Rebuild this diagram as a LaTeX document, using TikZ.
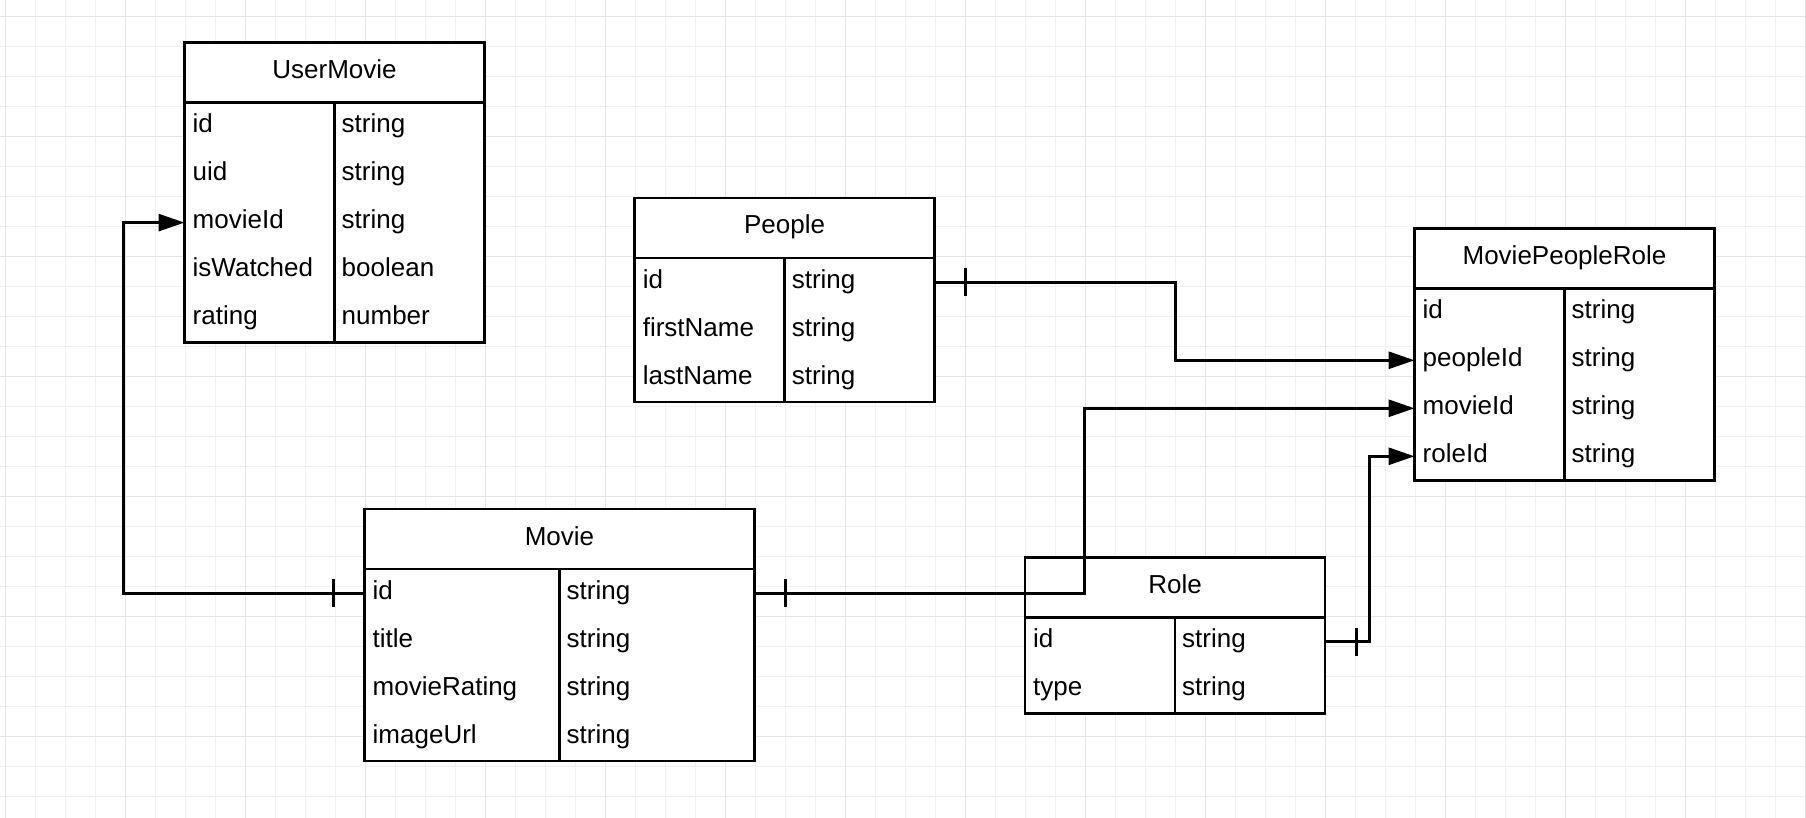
\documentclass[tikz,border=0pt]{standalone}
\usepackage{fontspec}
\setmainfont{Liberation Sans}
\usetikzlibrary{positioning, calc, arrows.meta, decorations.markings}

\tikzset{
  gridminor/.style={draw=black!6, line width=0.8pt},
  gridmajor/.style={draw=black!10, line width=1pt},
  tblhead/.style={draw, fill=white, line width=2.8pt, inner sep=0pt, outer sep=0pt, anchor=north west,
    minimum height=60pt, text height=19pt, text depth=7pt},
  tblbody/.style={draw, fill=white, line width=2.8pt},
  tblrow/.style={inner sep=0pt, outer sep=0pt, minimum height=48pt},
  fieldtxt/.style={inner sep=0pt, anchor=base west},
  rel/.style={line width=3pt, -{Triangle[length=26pt,width=17pt]},
    decoration={markings, mark=at position 31pt with {\draw[-, line width=3pt] (0,-14pt) -- (0,14pt);}},
    postaction={decorate}}
}

\begin{document}
\begin{tikzpicture}[x=1pt, y=-1pt, font=\fontsize{26}{31}\selectfont]

\useasboundingbox (0,0) rectangle (1806,818);
\fill[white] (0,0) rectangle (1806,818);

%Grid
\foreach \gx in {5,35,...,1805} \draw[gridminor] (\gx,0) -- (\gx,818);
\foreach \gy in {16.7,46.7,...,818} \draw[gridminor] (0,\gy) -- (1806,\gy);
\foreach \gx in {5,125,...,1805} \draw[gridmajor] (\gx,0) -- (\gx,818);
\foreach \gy in {16.7,136.7,...,818} \draw[gridmajor] (0,\gy) -- (1806,\gy);

%UserMovie
\node[tblhead, minimum width=300pt] (um) at (184.5,42.6) {UserMovie};
\draw[tblbody] (um.south west) rectangle ++(300,240);
\draw[line width=2.8pt] (um.south) -- ++(0,240);
\foreach \fn/\ft [count=\i] in {id/string, uid/string, movieId/string, isWatched/boolean, rating/number}{
  \node[tblrow, minimum width=300pt] (um-\fn) at ($(um.south)+(0,{(\i-0.5)*48})$) {};
  \node[fieldtxt] (um-\fn-n) at ($(um-\fn.west)+(8,6)$) {\fn};
  \node[fieldtxt] (um-\fn-t) at ($(um-\fn.center)+(7,6)$) {\ft};
}

%People
\node[tblhead, minimum width=300pt] (people) at (634.6,198) {People};
\draw[tblbody] (people.south west) rectangle ++(300,144);
\draw[line width=2.8pt] (people.south) -- ++(0,144);
\foreach \fn/\ft [count=\i] in {id/string, firstName/string, lastName/string}{
  \node[tblrow, minimum width=300pt] (people-\fn) at ($(people.south)+(0,{(\i-0.5)*48})$) {};
  \node[fieldtxt] (people-\fn-n) at ($(people-\fn.west)+(8,6)$) {\fn};
  \node[fieldtxt] (people-\fn-t) at ($(people-\fn.center)+(7,6)$) {\ft};
}

%MoviePeopleRole
\node[tblhead, minimum width=300pt] (mpr) at (1414.5,228.3) {MoviePeopleRole};
\draw[tblbody] (mpr.south west) rectangle ++(300,192);
\draw[line width=2.8pt] (mpr.south) -- ++(0,192);
\foreach \fn/\ft [count=\i] in {id/string, peopleId/string, movieId/string, roleId/string}{
  \node[tblrow, minimum width=300pt] (mpr-\fn) at ($(mpr.south)+(0,{(\i-0.5)*48})$) {};
  \node[fieldtxt] (mpr-\fn-n) at ($(mpr-\fn.west)+(8,6)$) {\fn};
  \node[fieldtxt] (mpr-\fn-t) at ($(mpr-\fn.center)+(7,6)$) {\ft};
}

%Movie
\node[tblhead, minimum width=390pt] (movie) at (364.5,509) {Movie};
\draw[tblbody] (movie.south west) rectangle ++(390,192);
\draw[line width=2.8pt] (movie.south) -- ++(0,192);
\foreach \fn/\ft [count=\i] in {id/string, title/string, movieRating/string, imageUrl/string}{
  \node[tblrow, minimum width=390pt] (movie-\fn) at ($(movie.south)+(0,{(\i-0.5)*48})$) {};
  \node[fieldtxt] (movie-\fn-n) at ($(movie-\fn.west)+(8,6)$) {\fn};
  \node[fieldtxt] (movie-\fn-t) at ($(movie-\fn.center)+(7,6)$) {\ft};
}

%Role
\node[tblhead, minimum width=300pt] (role) at (1025,557.5) {Role};
\draw[tblbody] (role.south west) rectangle ++(300,96);
\draw[line width=2.8pt] (role.south) -- ++(0,96);
\foreach \fn/\ft [count=\i] in {id/string, type/string}{
  \node[tblrow, minimum width=300pt] (role-\fn) at ($(role.south)+(0,{(\i-0.5)*48})$) {};
  \node[fieldtxt] (role-\fn-n) at ($(role-\fn.west)+(8,6)$) {\fn};
  \node[fieldtxt] (role-\fn-t) at ($(role-\fn.center)+(7,6)$) {\ft};
}

%Relations
\draw[rel] (movie-id.west) -- (123,0 |- movie-id.west) |- (um-movieId.west);
\draw[rel] (movie-id.east) -- (1084,0 |- movie-id.east) |- (mpr-movieId.west);
\draw[rel] (people-id.east) -- (1175,0 |- people-id.east) |- (mpr-peopleId.west);
\draw[rel] (role-id.east) -- (1369.5,0 |- role-id.east) |- (mpr-roleId.west);

\end{tikzpicture}
\end{document}
